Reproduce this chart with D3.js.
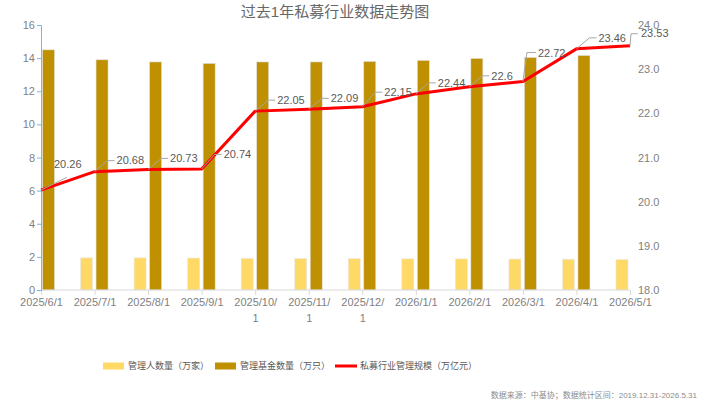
<!DOCTYPE html>
<html>
<head>
<meta charset="utf-8">
<script src="https://cdn.jsdelivr.net/npm/d3@7"></script>
<style>
  body { margin: 0; background: #fff; }
  text { font-family: "Liberation Sans", "Noto Sans CJK SC", sans-serif; }
</style>
</head>
<body>
<div id="chart"></div>
<script>
// data
var months = ["2025/6/1", "2025/7/1", "2025/8/1", "2025/9/1", "2025/10/1", "2025/11/1",
              "2025/12/1", "2026/1/1", "2026/2/1", "2026/3/1", "2026/4/1", "2026/5/1"];
var managers = [null, 1.94, 1.94, 1.93, 1.91, 1.90, 1.89, 1.88, 1.88, 1.87, 1.86, 1.84];
var funds = [14.5, 13.9, 13.77, 13.68, 13.77, 13.77, 13.8, 13.86, 13.98, 14.04, 14.16, null];
var scale = [20.26, 20.68, 20.73, 20.74, 22.05, 22.09, 22.15, 22.44, 22.6, 22.72, 23.46, 23.53];
var leftTicks = [0, 2, 4, 6, 8, 10, 12, 14, 16];
var rightTicks = [18, 19, 20, 21, 22, 23, 24];

var W = 705, H = 403;
var margin = { top: 25, bottom: 113, left: 41, right: 75 };
var x0 = margin.left, x1 = W - margin.right, y0 = H - margin.bottom, y1 = margin.top;

var svg = d3.select("#chart").append("svg")
  .attr("width", W).attr("height", H);

var x = d3.scalePoint().domain(months).range([x0, x1]);
var yl = d3.scaleLinear().domain([0, 16]).range([y0, y1]);
var yr = d3.scaleLinear().domain([18, 24]).range([y0, y1]);

// title
svg.append("text").attr("x", 335).attr("y", 17).attr("text-anchor", "middle")
  .style("font-size", "15px").style("fill", "#666").text("过去1年私募行业数据走势图");

// bars
var bars = svg.append("g");
bars.selectAll(".mgr").data(months).enter().append("rect")
  .filter(function(d, i) { return managers[i] != null; })
  .attr("x", function(d) { return x(d) - 14; })
  .attr("width", 12)
  .attr("y", function(d) { return yl(managers[months.indexOf(d)]); })
  .attr("height", function(d) { return y0 - yl(managers[months.indexOf(d)]); })
  .attr("fill", "#FFD966").attr("stroke", "#e8e8e8").attr("stroke-width", 0.6);
bars.selectAll(".fund").data(months).enter().append("rect")
  .filter(function(d, i) { return funds[i] != null; })
  .attr("x", function(d) { return x(d) + 1.5; })
  .attr("width", 12)
  .attr("y", function(d) { return yl(funds[months.indexOf(d)]); })
  .attr("height", function(d) { return y0 - yl(funds[months.indexOf(d)]); })
  .attr("fill", "#BF9000").attr("stroke", "#e0e0e0").attr("stroke-width", 0.6);

// x axis
var xAxis = svg.append("g").attr("transform", "translate(0," + y0 + ")")
  .call(d3.axisBottom(x).tickSize(5).tickSizeOuter(0).tickFormat(""));
xAxis.select(".domain").attr("stroke", "#d9d9d9").attr("d", "M" + x0 + ",0H" + x1);
xAxis.selectAll(".tick line").attr("stroke", "#d9d9d9");
xAxis.selectAll(".tick").append("text")
  .attr("text-anchor", "middle").style("font-size", "11px").style("fill", "#7f7f7f")
  .each(function(d) {
    var t = d3.select(this);
    var parts = d.length > 8 ? [d.slice(0, 8), d.slice(8)] : [d];
    parts.forEach(function(p, k) {
      t.append("tspan").attr("x", 0).attr("y", 16 + k * 16).text(p);
    });
  });

// left axis
var la = svg.append("g").attr("transform", "translate(" + x0 + ",0)")
  .call(d3.axisLeft(yl).tickValues(leftTicks).tickSize(4).tickSizeOuter(4));
la.select(".domain").attr("stroke", "#7fb2e0");
la.selectAll(".tick line").attr("stroke", "#7fb2e0");
la.selectAll(".tick text").attr("x", -6).style("font-size", "11px").style("fill", "#7f7f7f")
  .style("font-family", "Liberation Sans");

// right axis
var ra = svg.append("g").attr("transform", "translate(" + x1 + ",0)")
  .call(d3.axisRight(yr).tickValues(rightTicks).tickSize(0).tickFormat(d3.format(".1f")));
ra.select(".domain").remove();
ra.selectAll(".tick text").attr("x", 8).style("font-size", "11px").style("fill", "#7f7f7f")
  .style("font-family", "Liberation Sans");

// line
svg.append("path").datum(months)
  .attr("d", d3.line()
    .x(function(d) { return x(d); })
    .y(function(d, i) { return yr(scale[i]); }))
  .attr("fill", "none").attr("stroke", "#FF0000").attr("stroke-width", 3)
  .attr("stroke-linejoin", "round");

// labels with leader lines (some labels pushed up to avoid the line)
var lab = svg.append("g");
months.forEach(function(m, i) {
  var px = x(m), py = yr(scale[i]);
  var pts, tx, ty;
  if (i == 0) {
    pts = [[px, py], [px + 26, py - 13]];
    tx = px + 13; ty = py - 26;
  } else if (i == 9) {
    pts = [[px, py], [px + 4, py - 29], [px + 13, py - 29]];
    tx = px + 15; ty = py - 28;
  } else if (i == months.length - 1) {
    pts = [[px, py], [px + 1, py - 12], [px + 8, py - 12]];
    tx = px + 11; ty = py - 12.5;
  } else {
    var dy = (i == 3 || i == 6) ? 14.5 : 11;
    pts = [[px, py], [px + 13, py - dy], [px + 20, py - dy]];
    tx = px + 22; ty = py - dy;
  }
  lab.append("path").attr("d", d3.line()(pts))
    .attr("fill", "none").attr("stroke", "#a6a6a6").attr("stroke-width", 1);
  lab.append("text").attr("x", tx).attr("y", ty).attr("dy", "0.35em")
    .style("font-size", "11px").style("fill", "#595959").text(scale[i]);
});

// legend
var legend = svg.append("g").attr("transform", "translate(0,366)");
var items = [
  { name: "管理人数量（万家）", color: "#FFD966", type: "rect", x: 103 },
  { name: "管理基金数量（万只）", color: "#BF9000", type: "rect", x: 215 },
  { name: "私募行业管理规模（万亿元）", color: "#FF0000", type: "line", x: 335 }
];
items.forEach(function(it) {
  if (it.type == "rect") {
    legend.append("rect").attr("x", it.x).attr("y", -3.5).attr("width", 21).attr("height", 7)
      .attr("fill", it.color);
  } else {
    legend.append("line").attr("x1", it.x).attr("x2", it.x + 22).attr("y1", 0).attr("y2", 0)
      .attr("stroke", it.color).attr("stroke-width", 3);
  }
  legend.append("text").attr("x", it.x + 25).attr("y", 0).attr("dy", "0.35em")
    .style("font-size", "9px").style("fill", "#595959").text(it.name);
});

// source
svg.append("text").attr("x", 697).attr("y", 398).attr("text-anchor", "end")
  .style("font-size", "8px").style("fill", "#8c8c8c")
  .text("数据来源：中基协；数据统计区间：2019.12.31-2026.5.31");
</script>
</body>
</html>
